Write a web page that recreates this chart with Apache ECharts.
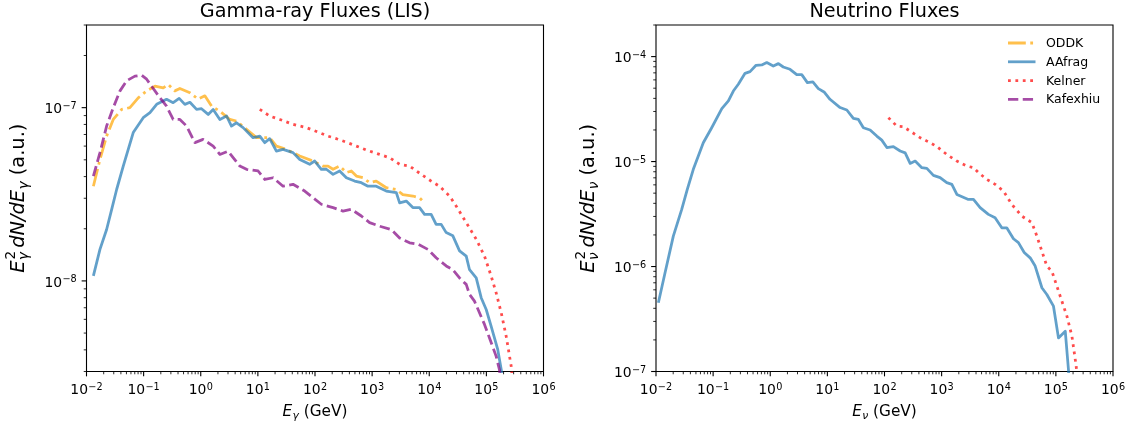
<!DOCTYPE html>
<html>
<head>
<meta charset="utf-8">
<script src="https://cdn.jsdelivr.net/npm/echarts@6/dist/echarts.min.js"></script>
<style>
html,body{margin:0;padding:0;background:#fff;}
#chart{width:1133px;height:432px;}
</style>
</head>
<body>
<div id="chart"></div>
<script>
// ---------------- data ----------------
const seriesNames = ['ODDK', 'AAfrag', 'Kelner', 'Kafexhiu'];
const titles = ['Gamma-ray Fluxes (LIS)', 'Neutrino Fluxes'];
const xTickExps = [-2, -1, 0, 1, 2, 3, 4, 5, 6];
const gammaYTickExps = [-8, -7];
const nuYTickExps = [-7, -6, -5, -4];

// Gamma-ray panel
const gammaODDK_E = [0.0132, 0.0172, 0.0225, 0.0294, 0.0412, 0.0575, 0.0805, 0.113, 0.158, 0.220, 0.269, 0.352, 0.431, 0.646, 0.902, 1.18, 1.55, 2.16, 3.23, 4.23, 6.32, 9.46, 16.1, 21.1, 31.6, 54.1, 92.3, 138, 169, 207, 270, 354, 432, 530, 690, 904, 1180, 1770, 2650, 3450, 5160, 6760, 8280];
const gammaODDK_F = [3.52e-8, 5.02e-8, 6.85e-8, 8.55e-8, 9.77e-8, 1.0e-7, 1.14e-7, 1.25e-7, 1.33e-7, 1.30e-7, 1.36e-7, 1.25e-7, 1.29e-7, 1.22e-7, 1.12e-7, 1.17e-7, 1.02e-7, 9.55e-8, 8.55e-8, 8.37e-8, 7.50e-8, 6.71e-8, 6.71e-8, 6.0e-8, 5.74e-8, 5.26e-8, 4.92e-8, 4.60e-8, 4.60e-8, 4.41e-8, 4.60e-8, 4.22e-8, 4.31e-8, 4.03e-8, 3.94e-8, 3.69e-8, 3.77e-8, 3.45e-8, 3.37e-8, 3.15e-8, 3.09e-8, 3.02e-8, 2.82e-8];

const gammaAAfrag_E = [0.0132, 0.0172, 0.0225, 0.0276, 0.0337, 0.0440, 0.0658, 0.0984, 0.129, 0.169, 0.252, 0.329, 0.419, 0.527, 0.646, 0.845, 1.03, 1.35, 1.65, 2.16, 2.83, 3.45, 4.23, 5.51, 8.24, 10.8, 13.2, 16.1, 21.1, 27.6, 41.2, 54.1, 80.7, 98.9, 129, 158, 207, 270, 354, 494, 647, 845, 1180, 1770, 2650, 3030, 3960, 5160, 6760, 8280, 10800, 13200, 16200, 19800, 25900, 33900, 44400, 50700, 66400, 81100, 99300, 121000, 158000, 182000, 195000];
const gammaAAfrag_F = [1.07e-8, 1.52e-8, 1.98e-8, 2.59e-8, 3.37e-8, 4.60e-8, 7.18e-8, 8.75e-8, 9.35e-8, 1.045e-7, 1.117e-7, 1.069e-7, 1.132e-7, 1.045e-7, 1.074e-7, 9.77e-8, 9.86e-8, 9.14e-8, 9.77e-8, 8.55e-8, 8.95e-8, 7.83e-8, 8.18e-8, 7.67e-8, 6.71e-8, 6.85e-8, 6.28e-8, 6.62e-8, 5.61e-8, 5.74e-8, 5.50e-8, 5.02e-8, 4.71e-8, 4.92e-8, 4.41e-8, 4.41e-8, 4.12e-8, 4.31e-8, 3.94e-8, 3.77e-8, 3.69e-8, 3.52e-8, 3.52e-8, 3.30e-8, 3.23e-8, 2.82e-8, 2.89e-8, 2.65e-8, 2.65e-8, 2.42e-8, 2.42e-8, 2.12e-8, 2.12e-8, 1.90e-8, 1.82e-8, 1.49e-8, 1.39e-8, 1.16e-8, 1.04e-8, 8.0e-9, 6.84e-9, 5.48e-9, 4.02e-9, 3.08e-9, 2.5e-9];

const gammaKelner_E = [10.8, 16.1, 24.2, 41.2, 70.8, 113, 169, 237, 354, 530, 793, 1350, 2020, 3030, 4530, 7240, 10800, 15100, 22700, 29700, 44400, 66400, 92700, 121000, 148000, 182000, 222000, 272000, 282000];
const gammaKelner_F = [9.77e-8, 8.95e-8, 8.55e-8, 8.01e-8, 7.67e-8, 7.23e-8, 6.85e-8, 6.62e-8, 6.32e-8, 6.0e-8, 5.69e-8, 5.37e-8, 5.14e-8, 4.71e-8, 4.60e-8, 4.12e-8, 3.77e-8, 3.52e-8, 3.09e-8, 2.70e-8, 2.17e-8, 1.74e-8, 1.39e-8, 1.07e-8, 8.55e-9, 6.55e-9, 4.80e-9, 3.22e-9, 2.8e-9];

const gammaKafexhiu_E = [0.0132, 0.0172, 0.0225, 0.0294, 0.0386, 0.0505, 0.0705, 0.0923, 0.113, 0.138, 0.193, 0.252, 0.329, 0.431, 0.565, 0.789, 1.10, 1.65, 2.16, 3.01, 4.83, 6.32, 10.1, 13.2, 18.5, 27.6, 41.2, 66.1, 92.3, 129, 207, 309, 432, 647, 904, 1350, 2170, 3030, 4530, 6320, 9460, 13200, 19800, 25900, 33900, 44400, 50700, 61900, 75700, 92700, 113000, 148000, 169000, 178000];
const gammaKafexhiu_F = [4.03e-8, 5.50e-8, 7.83e-8, 1.0e-7, 1.25e-7, 1.43e-7, 1.52e-7, 1.54e-7, 1.46e-7, 1.33e-7, 1.14e-7, 1.02e-7, 8.55e-8, 8.55e-8, 7.83e-8, 6.28e-8, 6.56e-8, 6.0e-8, 5.37e-8, 5.61e-8, 4.60e-8, 4.41e-8, 4.31e-8, 3.85e-8, 3.94e-8, 3.52e-8, 3.61e-8, 3.30e-8, 3.02e-8, 2.77e-8, 2.65e-8, 2.53e-8, 2.59e-8, 2.37e-8, 2.17e-8, 2.07e-8, 1.98e-8, 1.77e-8, 1.66e-8, 1.63e-8, 1.52e-8, 1.36e-8, 1.22e-8, 1.16e-8, 1.04e-8, 9.55e-9, 8.36e-9, 7.64e-9, 6.55e-9, 5.61e-9, 4.70e-9, 3.68e-9, 3.08e-9, 2.7e-9];

// Neutrino panel
const nuAAfrag_E = [0.0110, 0.0144, 0.0201, 0.0282, 0.0353, 0.0450, 0.0673, 0.0944, 0.142, 0.185, 0.226, 0.276, 0.362, 0.443, 0.564, 0.710, 0.869, 1.13, 1.39, 1.69, 2.22, 2.91, 3.56, 4.47, 5.57, 6.95, 8.75, 11.1, 16.7, 21.9, 28.5, 34.9, 42.7, 56.0, 73.3, 89.6, 110, 143, 188, 230, 281, 344, 450, 551, 718, 941, 1230, 1510, 1850, 2940, 3610, 4720, 6590, 8630, 11300, 13800, 18100, 22100, 27900, 35500, 43400, 56900, 69500, 90800, 111000, 146000, 166000, 170000];
const nuAAfrag_F = [4.52e-7, 8.73e-7, 1.95e-6, 3.50e-6, 5.43e-6, 8.43e-6, 1.51e-5, 2.10e-5, 3.19e-5, 3.78e-5, 4.70e-5, 5.45e-5, 6.93e-5, 7.19e-5, 8.26e-5, 8.32e-5, 8.77e-5, 8.13e-5, 8.57e-5, 7.96e-5, 7.57e-5, 6.73e-5, 6.73e-5, 5.65e-5, 5.73e-5, 4.95e-5, 4.60e-5, 3.92e-5, 3.27e-5, 3.10e-5, 2.58e-5, 2.52e-5, 2.10e-5, 2.0e-5, 1.75e-5, 1.60e-5, 1.36e-5, 1.39e-5, 1.26e-5, 1.21e-5, 9.6e-6, 1.01e-5, 8.75e-6, 8.61e-6, 7.38e-6, 7.03e-6, 6.30e-6, 6.07e-6, 4.86e-6, 4.36e-6, 4.36e-6, 3.64e-6, 3.14e-6, 2.92e-6, 2.34e-6, 2.34e-6, 1.84e-6, 1.69e-6, 1.36e-6, 1.21e-6, 1.01e-6, 6.28e-7, 5.42e-7, 4.19e-7, 2.09e-7, 2.42e-7, 1.045e-7, 8e-8];

const nuKelner_E = [117, 164, 214, 281, 420, 629, 824, 1230, 1850, 2760, 3610, 4420, 6190, 8650, 12100, 16900, 25400, 38000, 46500, 56900, 69500, 85100, 97300, 119000, 156000, 191000, 227000, 234000];
const nuKelner_F = [2.62e-5, 2.18e-5, 2.15e-5, 1.95e-5, 1.69e-5, 1.51e-5, 1.39e-5, 1.17e-5, 1.01e-5, 9.06e-6, 8.75e-6, 7.84e-6, 6.76e-6, 6.07e-6, 5.24e-6, 3.91e-6, 3.02e-6, 2.62e-6, 1.95e-6, 1.40e-6, 1.01e-6, 9.04e-7, 7.26e-7, 5.22e-7, 3.37e-7, 2.17e-7, 1.12e-7, 9e-8];

// ---------------- styling ----------------
const FONT = '"DejaVu Sans", sans-serif';
const COLORS = {ODDK: '#FFA500', AAfrag: '#1f77b4', Kelner: '#FF0000', Kafexhiu: '#800080'};
const DASH = {ODDK: [17.8, 4.45, 2.8, 4.45], AAfrag: 'solid', Kelner: [2.8, 4.6], Kafexhiu: [10.3, 4.45]};
const LW = 2.78;
const GRIDS = [
  {left: 86.5, top: 25, width: 457, height: 346.5},
  {left: 656, top: 25, width: 457, height: 346.5}
];
const YLIM = [[3e-9, 3e-7], [1e-7, 2e-4]];

const mctx = document.createElement('canvas').getContext('2d');
function tw(t, fs, it) {
  mctx.font = (it ? 'italic ' : '') + fs + 'px ' + FONT;
  return mctx.measureText(t).width;
}
// lays out a horizontal run of (math) text pieces; anchor: left/center/right
function mathRun(parts, anchor) {
  let x = 0, pend = 0;
  const items = [];
  parts.forEach(p => {
    const w = tw(p.t, p.fs, p.it) + (p.dx || 0);
    items.push({x: x + (p.dx || 0), y: p.dy || 0, p: p});
    if (p.stack) { pend = Math.max(pend, w); }
    else { x += Math.max(w, pend); pend = 0; }
  });
  const off = anchor === 'center' ? -x / 2 : (anchor === 'right' ? -x : 0);
  return items.map(it => ({
    type: 'text', x: it.x + off, y: it.y, silent: true,
    style: {text: it.p.t, fontSize: it.p.fs, fontFamily: FONT,
            fontStyle: it.p.it ? 'italic' : 'normal', fill: '#000',
            align: 'left', verticalAlign: 'middle'}
  }));
}
function expParts(e) {
  return [{t: '10', fs: 13.9}, {t: (e < 0 ? '\u2212' : '') + Math.abs(e), fs: 9.7, dy: -3.4, dx: 0.3}];
}
function tickLine(x1, y1, x2, y2, w) {
  return {type: 'line', silent: true, shape: {x1: x1, y1: y1, x2: x2, y2: y2}, style: {stroke: '#000', lineWidth: w}};
}
function decoSeries(gi, yExps) {
  const yMin = YLIM[gi][0], yMax = YLIM[gi][1];
  return {
    type: 'custom', xAxisIndex: gi, yAxisIndex: gi, clip: false, silent: true, z: 20,
    data: [[1, Math.sqrt(yMin * yMax)]],
    renderItem: function (params, api) {
      const kids = [];
      const p0 = api.coord([1e-2, yMin]);
      const left = p0[0], bottom = p0[1];
      xTickExps.forEach(e => {
        const px = api.coord([Math.pow(10, e), yMin])[0];
        kids.push(tickLine(px, bottom, px, bottom + 4.86, 1.1));
        kids.push({type: 'group', x: px, y: bottom + 19, children: mathRun(expParts(e), 'center')});
      });
      for (let e = xTickExps[0]; e < xTickExps[xTickExps.length - 1]; e++) {
        for (let m = 2; m <= 9; m++) {
          const px = api.coord([m * Math.pow(10, e), yMin])[0];
          kids.push(tickLine(px, bottom, px, bottom + 2.78, 0.83));
        }
      }
      yExps.forEach(e => {
        const py = api.coord([1e-2, Math.pow(10, e)])[1];
        kids.push(tickLine(left - 4.86, py, left, py, 1.1));
        kids.push({type: 'group', x: left - 9.8, y: py + 2, children: mathRun(expParts(e), 'right')});
      });
      const e0 = Math.floor(Math.log10(yMin)), e1 = Math.ceil(Math.log10(yMax));
      for (let e = e0; e <= e1; e++) {
        for (let m = 2; m <= 9; m++) {
          const v = m * Math.pow(10, e);
          if (v < yMin * (1 - 1e-6) || v > yMax * (1 + 1e-6)) continue;
          const py = api.coord([1e-2, v])[1];
          kids.push(tickLine(left - 2.78, py, left, py, 0.83));
        }
      }
      return {type: 'group', children: kids};
    }
  };
}
function lineSeries(name, E, F, gi) {
  return {
    type: 'line', name: name, xAxisIndex: gi, yAxisIndex: gi,
    data: E.map((e, i) => [e, F[i]]),
    symbol: 'none', showSymbol: false, clip: true, silent: true, animation: false,
    lineStyle: {color: COLORS[name], width: LW, type: DASH[name], opacity: 0.7, cap: 'butt', join: 'round'},
    itemStyle: {color: COLORS[name]},
    emphasis: {disabled: true}, z: 5
  };
}
function axisPair(gi) {
  const hidden = {axisLine: {show: false}, axisTick: {show: false}, axisLabel: {show: false}, splitLine: {show: false}, minorTick: {show: false}, minorSplitLine: {show: false}};
  return {
    x: Object.assign({type: 'log', logBase: 10, gridIndex: gi, min: 1e-2, max: 1e6}, hidden),
    y: Object.assign({type: 'log', logBase: 10, gridIndex: gi, min: YLIM[gi][0], max: YLIM[gi][1]}, hidden)
  };
}
const a0 = axisPair(0), a1 = axisPair(1);

const graphics = [];
// titles
titles.forEach((t, i) => {
  graphics.push({type: 'text', x: GRIDS[i].left + GRIDS[i].width / 2, y: 12.5, silent: true,
    style: {text: t, fontSize: 19.2, fontFamily: FONT, fill: '#000', align: 'center', verticalAlign: 'middle'}});
});
// x-axis labels
const greek = ['\u03b3', '\u03bd'];
const XF = 15.3, XS = 10.7;
greek.forEach((g, i) => {
  graphics.push({type: 'group', x: GRIDS[i].left + GRIDS[i].width / 2, y: 412.4, silent: true,
    children: mathRun([{t: 'E', fs: XF, it: true}, {t: g, fs: XS, it: true, dy: 4, dx: 0.3}, {t: ' (GeV)', fs: XF}], 'center')});
});
// y-axis labels
const ylabX = [19, 589];
const YF = 19.4, YS = 13.6;
greek.forEach((g, i) => {
  graphics.push({type: 'group', x: ylabX[i], y: GRIDS[i].top + GRIDS[i].height / 2, rotation: Math.PI / 2, silent: true,
    children: mathRun([
      {t: 'E', fs: YF, it: true},
      {t: '2', fs: YS, dy: -7.6, dx: 1, stack: true},
      {t: g, fs: YS, it: true, dy: 5, dx: 0.4},
      {t: ' ', fs: 10},
      {t: 'dN/dE', fs: YF, it: true},
      {t: g, fs: YS, it: true, dy: 5, dx: 0.4},
      {t: ' (a.u.)', fs: YF}
    ], 'center')});
});
// legend (no frame), in the neutrino panel
const legY = [43, 61.8, 80.6, 99.4];
seriesNames.forEach((n, i) => {
  const d = DASH[n];
  graphics.push({type: 'line', silent: true, shape: {x1: 1008, y1: legY[i], x2: 1035.5, y2: legY[i]},
    style: {stroke: COLORS[n], lineWidth: LW, opacity: 0.7, lineDash: Array.isArray(d) ? d : null, lineCap: 'butt'}});
  graphics.push({type: 'text', x: 1046, y: legY[i] + 0.8, silent: true,
    style: {text: n, fontSize: 12.5, fontFamily: FONT, fill: '#000', align: 'left', verticalAlign: 'middle'}});
});

const option = {
  animation: false,
  backgroundColor: '#ffffff',
  grid: GRIDS.map(g => Object.assign({show: true, borderColor: '#000', borderWidth: 1.1, backgroundColor: 'transparent', containLabel: false}, g)),
  xAxis: [a0.x, a1.x],
  yAxis: [a0.y, a1.y],
  series: [
    lineSeries('ODDK', gammaODDK_E, gammaODDK_F, 0),
    lineSeries('AAfrag', gammaAAfrag_E, gammaAAfrag_F, 0),
    lineSeries('Kelner', gammaKelner_E, gammaKelner_F, 0),
    lineSeries('Kafexhiu', gammaKafexhiu_E, gammaKafexhiu_F, 0),
    lineSeries('AAfrag', nuAAfrag_E, nuAAfrag_F, 1),
    lineSeries('Kelner', nuKelner_E, nuKelner_F, 1),
    decoSeries(0, gammaYTickExps),
    decoSeries(1, nuYTickExps)
  ],
  graphic: graphics
};
const chart = echarts.init(document.getElementById('chart'), null, {renderer: 'canvas'});
chart.setOption(option);
</script>
</body>
</html>
